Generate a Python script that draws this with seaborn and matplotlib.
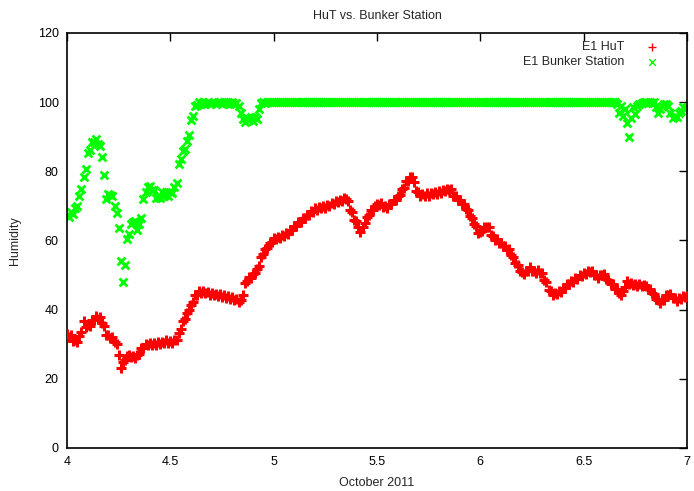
import numpy as np
import pandas as pd
import matplotlib
matplotlib.use("Agg")
import matplotlib.pyplot as plt
import seaborn as sns

# time grid: October 2011 days, 0.01-day steps from 4.00 to 7.00
days = np.round(np.linspace(4.0, 7.0, 301), 2)

hut = [
    32.9, 32.2, 32.6, 31.0, 31.2, 30.6, 32.5, 33.6, 36.6, 35.0,
    35.6, 35.4, 36.9, 37.0, 38.2, 37.3, 37.9, 36.0, 35.4, 32.7,
    32.6, 31.7, 32.1, 30.6, 30.0, 27.0, 23.2, 24.9, 25.4, 26.6,
    26.8, 26.2, 26.7, 26.1, 26.9, 27.1, 28.8, 29.0, 30.1, 29.7,
    30.5, 29.9, 30.4, 29.9, 30.7, 30.2, 30.6, 30.3, 31.1, 30.4,
    30.9, 30.5, 31.3, 31.3, 33.3, 34.5, 36.6, 37.2, 39.0, 39.9,
    41.3, 42.2, 44.3, 44.2, 45.3, 44.8, 45.5, 44.7, 45.1, 44.3,
    44.8, 44.1, 44.6, 44.0, 44.5, 43.7, 44.2, 43.5, 43.9, 43.2,
    43.6, 42.7, 43.1, 42.3, 42.9, 44.2, 47.8, 48.3, 49.3, 49.1,
    50.3, 50.5, 51.9, 52.7, 55.1, 56.2, 57.6, 57.9, 59.3, 59.5,
    60.6, 60.3, 61.1, 60.7, 61.5, 61.2, 62.2, 62.0, 63.1, 63.0,
    64.1, 64.1, 65.3, 65.3, 66.5, 66.5, 67.5, 67.4, 68.4, 68.3,
    69.3, 68.9, 69.7, 69.3, 70.1, 69.5, 70.3, 70.0, 70.8, 70.5,
    71.3, 71.0, 71.8, 71.5, 72.3, 71.9, 71.3, 68.9, 68.1, 66.0,
    65.5, 63.9, 62.6, 63.8, 65.2, 66.8, 67.5, 68.8, 68.7, 69.9,
    70.5, 70.4, 70.8, 69.8, 70.0, 69.3, 70.5, 70.5, 71.7, 71.7,
    72.8, 73.2, 74.8, 75.2, 77.1, 77.2, 78.5, 78.5, 76.8, 74.2,
    74.1, 73.0, 73.5, 72.9, 73.6, 73.0, 73.7, 73.3, 74.0, 73.5,
    74.3, 73.8, 74.6, 74.2, 75.0, 74.6, 74.8, 73.0, 72.8, 71.7,
    71.6, 70.5, 70.6, 69.2, 68.8, 67.2, 66.5, 64.7, 64.1, 62.2,
    62.6, 62.7, 63.9, 63.8, 63.8, 61.7, 61.3, 60.2, 60.3, 59.2,
    59.3, 58.3, 58.4, 57.3, 57.4, 55.7, 55.1, 53.4, 52.9, 51.3,
    50.9, 50.2, 51.3, 51.2, 52.3, 51.3, 51.3, 50.6, 51.5, 50.7,
    50.5, 48.6, 47.9, 45.7, 45.5, 44.1, 44.8, 44.4, 45.3, 45.2,
    46.3, 46.3, 47.5, 47.3, 48.3, 48.1, 49.1, 48.9, 49.9, 49.6,
    50.5, 50.2, 51.1, 50.9, 51.1, 50.0, 50.1, 49.1, 50.1, 50.1,
    50.3, 48.9, 48.7, 47.4, 47.3, 46.0, 46.0, 44.7, 44.1, 45.3,
    46.5, 48.3, 47.3, 47.7, 47.0, 47.5, 46.9, 47.5, 46.7, 47.1,
    46.9, 46.0, 46.0, 44.7, 44.5, 43.1, 42.9, 41.9, 42.9, 42.9,
    44.3, 44.2, 44.5, 43.4, 43.5, 42.5, 43.3, 43.1, 44.0, 43.6,
    44.0]

bunker = [
    67.3, 66.9, 68.2, 67.8, 69.3, 70.1, 72.9, 74.8, 78.5, 80.6,
    85.3, 86.1, 88.5, 88.6, 89.3, 87.9, 87.3, 84.1, 79.0, 72.1,
    73.3, 73.2, 73.0, 70.1, 68.0, 63.6, 54.0, 48.0, 53.0, 60.5,
    62.0, 64.9, 65.4, 65.5, 63.0, 64.9, 66.5, 71.9, 74.1, 75.5,
    75.7, 74.6, 74.5, 72.3, 72.5, 72.3, 74.1, 73.0, 73.9, 72.8,
    74.0, 73.8, 75.5, 76.6, 82.0, 83.6, 86.0, 86.6, 88.7, 90.6,
    94.8, 96.1, 98.9, 99.2, 100.0, 99.6, 100.0, 99.5, 100.0, 99.6,
    99.7, 100.0, 99.6, 100.0, 100.0, 99.5, 100.0, 99.7, 100.0, 99.4,
    100.0, 99.5, 99.8, 99.0, 97.0, 95.0, 94.2, 95.5, 94.8, 95.6,
    94.6, 95.8, 95.2, 98.0, 99.8, 100.0, 99.7, 100.0, 100.0, 100.0,
    100.0, 100.0, 100.0, 100.0, 100.0, 100.0, 100.0, 100.0, 100.0, 100.0,
    100.0, 100.0, 100.0, 100.0, 100.0, 100.0, 100.0, 100.0, 100.0, 100.0,
    100.0, 100.0, 100.0, 100.0, 100.0, 100.0, 100.0, 100.0, 100.0, 100.0,
    100.0, 100.0, 100.0, 100.0, 100.0, 100.0, 100.0, 100.0, 100.0, 100.0,
    100.0, 100.0, 100.0, 100.0, 100.0, 100.0, 100.0, 100.0, 100.0, 100.0,
    100.0, 100.0, 100.0, 100.0, 100.0, 100.0, 100.0, 100.0, 100.0, 100.0,
    100.0, 100.0, 100.0, 100.0, 100.0, 100.0, 100.0, 100.0, 100.0, 100.0,
    100.0, 100.0, 100.0, 100.0, 100.0, 100.0, 100.0, 100.0, 100.0, 100.0,
    100.0, 100.0, 100.0, 100.0, 100.0, 100.0, 100.0, 100.0, 100.0, 100.0,
    100.0, 100.0, 100.0, 100.0, 100.0, 100.0, 100.0, 100.0, 100.0, 100.0,
    100.0, 100.0, 100.0, 100.0, 100.0, 100.0, 100.0, 100.0, 100.0, 100.0,
    100.0, 100.0, 100.0, 100.0, 100.0, 100.0, 100.0, 100.0, 100.0, 100.0,
    100.0, 100.0, 100.0, 100.0, 100.0, 100.0, 100.0, 100.0, 100.0, 100.0,
    100.0, 100.0, 100.0, 100.0, 100.0, 100.0, 100.0, 100.0, 100.0, 100.0,
    100.0, 100.0, 100.0, 100.0, 100.0, 100.0, 100.0, 100.0, 100.0, 100.0,
    100.0, 100.0, 100.0, 100.0, 100.0, 100.0, 100.0, 100.0, 100.0, 100.0,
    100.0, 100.0, 100.0, 100.0, 100.0, 100.0, 99.5, 97.0, 99.0, 96.0,
    98.0, 94.0, 90.0, 95.5, 98.5, 96.5, 99.0, 99.5, 99.7, 100.0,
    100.0, 99.7, 100.0, 99.8, 100.0, 98.5, 97.0, 98.0, 99.0, 99.5,
    99.6, 99.0, 97.0, 95.5, 96.0, 95.8, 96.8, 97.5, 98.5, 98.0,
    98.5]

x_ticks = [4, 4.5, 5, 5.5, 6, 6.5, 7]
x_tick_labels = ["4", "4.5", "5", "5.5", "6", "6.5", "7"]
y_ticks = [0, 20, 40, 60, 80, 100, 120]

sns.set_theme(style="white")
plt.rcParams["font.family"] = ["Liberation Sans", "DejaVu Sans"]

fig = plt.figure(figsize=(6.94, 4.91), dpi=100)
ax = fig.add_axes([0.0965, 0.0876, 0.8934, 0.8452])

df = pd.DataFrame({"day": days, "hut": hut, "bunker": bunker})

sns.scatterplot(data=df, x="day", y="hut", marker="+", color="#ff0000",
                s=44, linewidth=2.2, ax=ax, label="E1 HuT", zorder=3)
sns.scatterplot(data=df, x="day", y="bunker", marker="x", color="#00ff00",
                s=32, linewidth=2.0, ax=ax, label="E1 Bunker Station", zorder=2)

ax.set_xlim(4, 7)
ax.set_ylim(0, 120)
ax.set_xticks(x_ticks)
ax.set_xticklabels(x_tick_labels)
ax.set_yticks(y_ticks)
ax.tick_params(direction="in", length=6, width=1, colors="black",
               top=True, right=True, labelsize=9, pad=6)
for s in ax.spines.values():
    s.set_color("black")
    s.set_linewidth(1.2)

ax.set_title("HuT vs. Bunker Station", fontsize=9, pad=10)
ax.set_xlabel("October 2011", fontsize=9, labelpad=6)
ax.set_ylabel("Humidity", fontsize=9, labelpad=12)

leg = ax.legend(loc="upper right", bbox_to_anchor=(0.972, 0.993),
                markerfirst=False, frameon=False, fontsize=9,
                handletextpad=1.24, borderaxespad=0.0, borderpad=0.4,
                labelspacing=0.28, handlelength=2.0, markerscale=0.85)
for h in leg.legend_handles:
    h.set_linewidth(1.0)

fig.savefig("out.png", dpi=100)
